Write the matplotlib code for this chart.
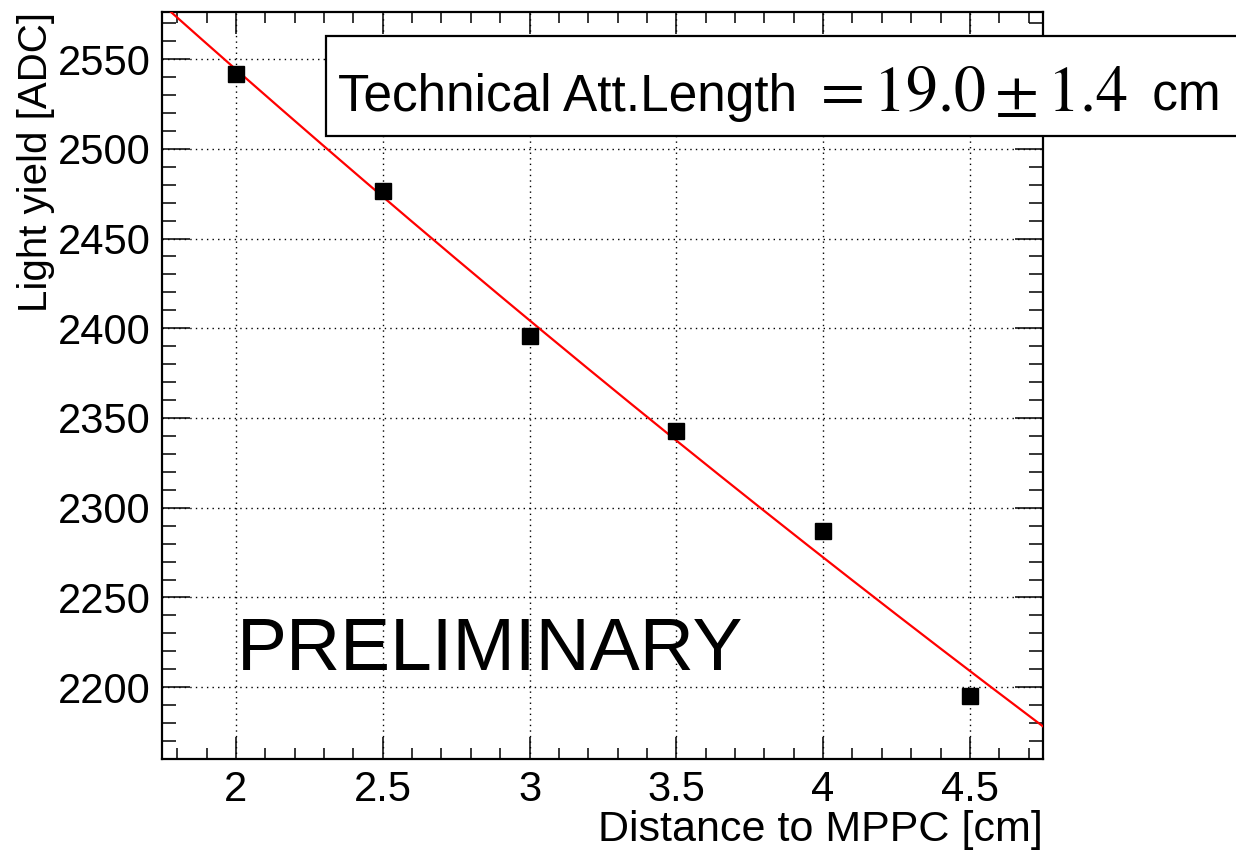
import numpy as np
import matplotlib
matplotlib.use("Agg")
import matplotlib.pyplot as plt
from matplotlib.patches import Rectangle
from matplotlib.ticker import MultipleLocator

plt.rcParams['font.family'] = ['Liberation Sans', 'DejaVu Sans']
plt.rcParams['mathtext.fontset'] = 'stix'

# Data
distance_cm = [2.0, 2.5, 3.0, 3.5, 4.0, 4.5]
light_yield_adc = [2541.7, 2476.5, 2395.8, 2342.7, 2287.0, 2195.0]
fit_amplitude = 2848.5
fit_att_length = 17.7
box_text_parts = ["Technical Att.Length ", r"$= 19.0 \pm 1.4$", " cm"]
prelim_text = "PRELIMINARY"
x_label = "Distance to MPPC [cm]"
y_label = "Light yield [ADC]"

fig = plt.figure(figsize=(12.36, 8.56), dpi=100)
ax = fig.add_axes([162/1236, 1-759/856, (1043-162)/1236, (759-12)/856])

ax.set_xlim(1.748, 4.749)
ax.set_ylim(2160, 2576.2)

xf = np.linspace(1.748, 4.749, 200)
ax.plot(xf, fit_amplitude*np.exp(-xf/fit_att_length), color='#ff0000', lw=1.6, zorder=3)
ax.plot(distance_cm, light_yield_adc, 's', color='black', ms=12, zorder=4)

ax.xaxis.set_major_locator(MultipleLocator(0.5))
ax.xaxis.set_minor_locator(MultipleLocator(0.1))
ax.yaxis.set_major_locator(MultipleLocator(50))
ax.yaxis.set_minor_locator(MultipleLocator(10))
ax.xaxis.set_major_formatter(plt.FuncFormatter(lambda v, p: f"{v:g}"))

ax.tick_params(axis='x', which='major', direction='in', length=16, width=1.1,
               top=True, labelsize=30, pad=8)
ax.tick_params(axis='x', which='minor', direction='in', length=8, width=1.1, top=True)
ax.tick_params(axis='y', which='major', direction='in', length=20, width=1.1,
               right=True, labelsize=30, pad=8)
ax.tick_params(axis='y', which='minor', direction='in', length=10, width=1.1, right=True)

ax.grid(True, which='major', color='black', linestyle=(0, (1, 3)), linewidth=1.0)
for s in ax.spines.values():
    s.set_linewidth(1.6)

ax.set_xlabel(x_label, fontsize=31, loc='right', labelpad=0)
ax.set_ylabel(y_label, fontsize=29, loc='top', labelpad=2)

ax.text(2.003, 2209.5, prelim_text, fontsize=54, ha='left', va='baseline', zorder=5)

rect = Rectangle((326/1236, 1-136/856), 1.0, (136-35.7)/856, transform=fig.transFigure,
                 facecolor='white', edgecolor='black', lw=1.6, clip_on=False, zorder=10)
fig.add_artist(rect)

renderer = fig.canvas.get_renderer()
x_px = 338.0
base_y = 1 - 110.7/856
sizes = [37, 46, 37]
for part, fs in zip(box_text_parts, sizes):
    t = fig.text(x_px/1236, base_y, part, fontsize=fs, ha='left', va='baseline', zorder=11)
    bb = t.get_window_extent(renderer=renderer)
    x_px = bb.x1 + (10 if part.startswith('$') else 0)

fig.savefig("out.png", dpi=100)
